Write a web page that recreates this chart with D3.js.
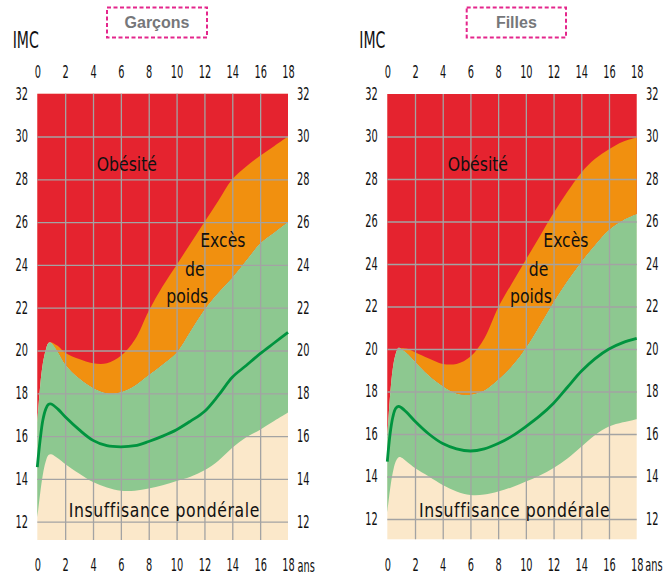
<!DOCTYPE html>
<html lang="fr">
<head>
<meta charset="UTF-8">
<title>IMC - Garçons / Filles</title>
<script src="https://cdn.jsdelivr.net/npm/d3@7"></script>
<style>
  body { margin: 0; background: #fff; }
  svg { display: block; }
  text { font-family: "DejaVu Sans Condensed", "Liberation Sans Narrow", sans-serif; }
</style>
</head>
<body>
<script>
// ages (ans) for the percentile curves
const ages = [0, 0.2, 0.4, 0.6, 0.8, 1, 1.5, 2, 3, 4, 5, 6, 7, 8, 9, 10, 11, 12, 13, 14, 15, 16, 17, 18];
// the obesity threshold only starts at 1 year
const obeseAges = [1, 1.5, 2, 3, 4, 5, 6, 7, 8, 9, 10, 11, 12, 13, 14, 15, 16, 17, 18];

// garçons
const boysLow    = [12.2, 13.3, 14.2, 14.8, 15.12, 15.15, 14.95, 14.7, 14.25, 13.85, 13.6, 13.45, 13.45, 13.55, 13.7, 13.9, 14.1, 14.4, 14.85, 15.45, 15.95, 16.3, 16.7, 17.1];
const boysMedian = [14.55, 15.8, 16.75, 17.25, 17.48, 17.5, 17.25, 16.9, 16.3, 15.8, 15.55, 15.5, 15.55, 15.75, 16.0, 16.3, 16.7, 17.15, 17.9, 18.75, 19.3, 19.85, 20.35, 20.85];
const boysHigh   = [16.6, 18.3, 19.4, 20.0, 20.35, 20.35, 19.9, 19.35, 18.7, 18.25, 18.0, 18.05, 18.35, 18.85, 19.35, 19.9, 20.9, 21.9, 22.7, 23.4, 24.2, 25.0, 25.5, 26.0];
const boysObese  = [20.4, 20.2, 19.9, 19.6, 19.4, 19.4, 19.75, 20.5, 21.85, 23.0, 24.0, 25.0, 26.0, 27.0, 28.0, 28.6, 29.1, 29.55, 30.0];

// filles
const girlsLow    = [12.3, 13.4, 14.2, 14.7, 14.9, 14.9, 14.65, 14.4, 14.0, 13.6, 13.3, 13.13, 13.15, 13.3, 13.5, 13.76, 14.05, 14.4, 14.85, 15.4, 15.95, 16.35, 16.55, 16.7];
const girlsMedian = [14.7, 16.0, 16.8, 17.2, 17.3, 17.25, 16.95, 16.6, 16.0, 15.55, 15.3, 15.2, 15.3, 15.55, 15.9, 16.35, 16.85, 17.45, 18.2, 18.95, 19.55, 20.0, 20.3, 20.5];
const girlsHigh   = [15.8, 17.8, 19.1, 19.75, 20.05, 20.0, 19.75, 19.4, 18.75, 18.25, 17.9, 17.85, 18.05, 18.55, 19.2, 20.05, 21.1, 22.2, 23.2, 24.1, 24.9, 25.6, 26.05, 26.35];
const girlsObese  = [20.05, 20.0, 19.85, 19.55, 19.3, 19.3, 19.65, 20.5, 21.95, 23.1, 24.2, 25.3, 26.4, 27.4, 28.3, 28.95, 29.4, 29.75, 29.95];

// tick labels
const xTicks = [0, 2, 4, 6, 8, 10, 12, 14, 16, 18];
const yTicks = [12, 14, 16, 18, 20, 22, 24, 26, 28, 30, 32];
const xGrid = [2, 4, 6, 8, 10, 12, 14, 16];
const yGrid = [12, 14, 16, 18, 20, 22, 24, 26, 28, 30];

const zoneLabels = ["Obésité", "Excès", "de", "poids", "Insuffisance pondérale"];

const W = 664, H = 575;
const sx = 0.64;   // horizontal squeeze for the condensed numbers
const zsx = 0.87;  // squeeze for the zone labels

const svg = d3.select("body").append("svg")
  .attr("width", W)
  .attr("height", H);

function drawPanel(p) {
  const x = d3.scaleLinear().domain([0, 18]).range([p.left, p.right]);
  const y = d3.scaleLinear().domain([12, 32]).range([p.y12, p.y32]);
  const top = p.y32, bottom = p.bottom;
  const curve = d3.curveCatmullRom.alpha(0.5);
  const g = svg.append("g");

  const area = d3.area()
    .x(d => x(d.a))
    .y0(d => y(d.lo))
    .y1(d => y(d.hi))
    .curve(curve);

  // beige background (insuffisance)
  g.append("rect")
    .attr("x", p.left).attr("y", top)
    .attr("width", p.right - p.left).attr("height", bottom - top)
    .attr("fill", "#fbe8ca");

  // red (above the 97th percentile)
  g.append("path")
    .datum(ages.map((a, i) => ({a: a, lo: p.high[i], hi: 32})))
    .attr("d", area)
    .attr("fill", "#e5232f");

  // orange, between 97th percentile and obesity threshold
  g.append("path")
    .datum(obeseAges.map((a, i) => ({a: a, lo: p.high[ages.indexOf(a)], hi: p.obese[i]})))
    .attr("d", area)
    .attr("fill", "#f1900f");

  // green, normal range
  g.append("path")
    .datum(ages.map((a, i) => ({a: a, lo: p.low[i], hi: p.high[i]})))
    .attr("d", area)
    .attr("fill", "#8dc890");

  // grid
  const gx = g.append("g")
    .attr("transform", "translate(0," + bottom + ")")
    .call(d3.axisBottom(x).tickValues(xGrid).tickSize(-(bottom - top)).tickFormat(""));
  const gy = g.append("g")
    .attr("transform", "translate(" + p.left + ",0)")
    .call(d3.axisLeft(y).tickValues(yGrid).tickSize(-(p.right - p.left)).tickFormat(""));
  [gx, gy].forEach(a => {
    a.select(".domain").remove();
    a.selectAll("line").attr("stroke", "#a3a3a3").attr("stroke-width", 1.3);
  });

  // median
  g.append("path")
    .datum(ages.map((a, i) => ({a: a, v: p.median[i]})))
    .attr("d", d3.line().x(d => x(d.a)).y(d => y(d.v)).curve(curve))
    .attr("fill", "none")
    .attr("stroke", "#00943f")
    .attr("stroke-width", 2.8);

  // tick labels
  function styleTicks(a) {
    a.select(".domain").remove();
    a.attr("font-family", null).attr("font-size", null);
    a.selectAll("text")
      .style("font-size", "17px")
      .attr("fill", "#111")
      .attr("transform", "scale(" + sx + ",1)");
  }
  const la = g.append("g").attr("transform", "translate(" + p.left + ",0)")
    .call(d3.axisLeft(y).tickValues(yTicks).tickSize(0).tickPadding(p.padL / sx));
  styleTicks(la);
  const ra = g.append("g").attr("transform", "translate(" + p.right + ",0)")
    .call(d3.axisRight(y).tickValues(yTicks).tickSize(0).tickPadding(p.padR / sx));
  styleTicks(ra);
  const ta = g.append("g").attr("transform", "translate(0," + top + ")")
    .call(d3.axisTop(x).tickValues(xTicks).tickSize(0).tickPadding(16));
  styleTicks(ta);
  const ba = g.append("g").attr("transform", "translate(0," + bottom + ")")
    .call(d3.axisBottom(x).tickValues(xTicks).tickSize(0));
  styleTicks(ba);
  ba.selectAll("text").attr("y", 31.5).attr("dy", null);

  g.append("text")
    .attr("transform", "translate(" + (x(18) + p.ansDx) + "," + (bottom + 31.5) + ") scale(" + sx + ",1)")
    .style("font-size", "17px")
    .attr("fill", "#111")
    .text("ans");

  // IMC
  g.append("text")
    .attr("transform", "translate(" + p.imcX + ",48.3) scale(0.68,1)")
    .style("font-size", "23px")
    .attr("fill", "#111")
    .text("IMC");

  // title box
  g.append("rect")
    .attr("x", p.boxX).attr("y", 7.5)
    .attr("width", p.boxW).attr("height", 30)
    .attr("fill", "none")
    .attr("stroke", "#e4268c")
    .attr("stroke-width", 2)
    .attr("stroke-dasharray", "4,2.5");
  g.append("text")
    .attr("x", p.boxX + p.boxW / 2).attr("y", 28.3)
    .attr("text-anchor", "middle")
    .style("font-family", "'Liberation Sans', Arial, sans-serif")
    .style("font-weight", "bold")
    .style("font-size", "16px")
    .attr("fill", "#76777a")
    .text(p.title);

  // zone labels
  g.selectAll(".zone")
    .data(zoneLabels)
    .enter()
    .append("text")
    .attr("class", "zone")
    .attr("transform", (d, i) => "translate(" + x(p.labelPos[i][0]) + "," + y(p.labelPos[i][1]) + ") scale(" + zsx + ",1)")
    .attr("text-anchor", "middle")
    .style("font-size", "20px")
    .style("letter-spacing", d => d.length > 10 ? "0.7px" : null)
    .attr("fill", "#111")
    .text(d => d);
}

drawPanel({
  title: "Garçons",
  left: 37.3, right: 288, y12: 521.7, y32: 93.7, bottom: 540,
  padL: 9.3, padR: 9, ansDx: 9.5,
  imcX: 12.7, boxX: 107, boxW: 100,
  low: boysLow, median: boysMedian, high: boysHigh, obese: boysObese,
  labelPos: [[6.43, 28.39], [13.32, 24.85], [11.31, 23.5], [10.77, 22.22], [9.12, 12.23]]
});

drawPanel({
  title: "Filles",
  left: 387.3, right: 636.7, y12: 519, y32: 94, bottom: 539.3,
  padL: 9.6, padR: 9.3, ansDx: 8.5,
  imcX: 359.3, boxX: 466.7, boxW: 99.3,
  low: girlsLow, median: girlsMedian, high: girlsHigh, obese: girlsObese,
  labelPos: [[6.54, 28.38], [12.89, 24.81], [10.92, 23.45], [10.37, 22.16], [9.19, 12.11]]
});
</script>
</body>
</html>
